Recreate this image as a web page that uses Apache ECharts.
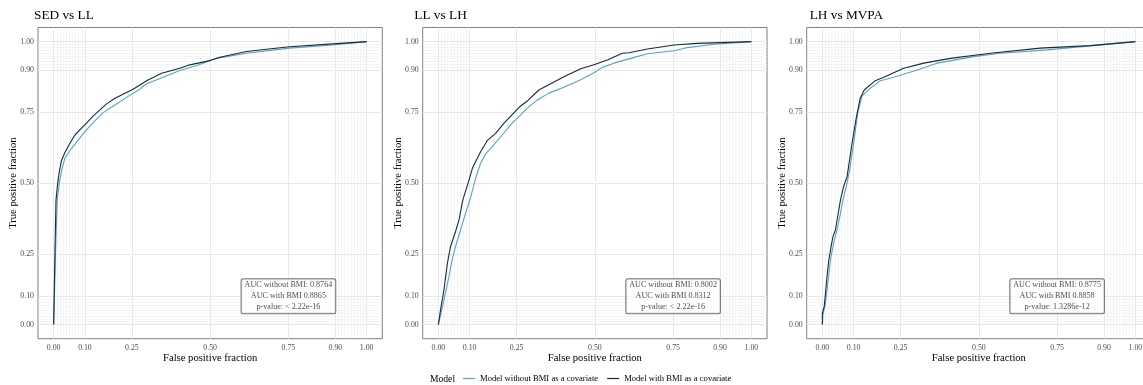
<!DOCTYPE html>
<html>
<head>
<meta charset="utf-8">
<script src="https://cdn.jsdelivr.net/npm/echarts@6/dist/echarts.min.js"></script>
<style>
html,body{margin:0;padding:0;background:#fff;}
#chart{width:1143px;height:385px;}
</style>
</head>
<body>
<div id="chart"></div>
<script>
// ---------- data ----------
const panelTitles = ['SED vs LL', 'LL vs LH', 'LH vs MVPA'];
const seriesNames = ['Model without BMI as a covariate', 'Model with BMI as a covariate'];
const tickValues = [0, 0.1, 0.25, 0.5, 0.75, 0.9, 1];
const minorValues = [0.01,0.02,0.03,0.04,0.05,0.06,0.07,0.08,0.09,0.91,0.92,0.93,0.94,0.95,0.96,0.97,0.98,0.99];
const annotations = [
  ['AUC without BMI: 0.8764', 'AUC with BMI 0.8865', 'p-value: < 2.22e-16'],
  ['AUC without BMI: 0.8002', 'AUC with BMI 0.8312', 'p-value: < 2.22e-16'],
  ['AUC without BMI: 0.8775', 'AUC with BMI 0.8858', 'p-value: 1.3286e-12']
];
const annotationPos = [0.75, 0.1];

// SED vs LL
const sedLL_without = [[0,0],[0.001,0.05],[0.003,0.12],[0.006,0.25],[0.009,0.36],[0.0115,0.44],[0.018,0.50],[0.026,0.548],[0.036,0.588],[0.057,0.623],[0.079,0.653],[0.100,0.682],[0.126,0.714],[0.158,0.749],[0.196,0.776],[0.233,0.803],[0.275,0.832],[0.297,0.851],[0.350,0.874],[0.403,0.898],[0.456,0.915],[0.520,0.941],[0.616,0.959],[0.754,0.977],[0.892,0.988],[1,1]];
const sedLL_with = [[0,0],[0.001,0.06],[0.002,0.12],[0.004,0.25],[0.006,0.36],[0.0075,0.44],[0.012,0.49],[0.018,0.54],[0.025,0.58],[0.036,0.608],[0.052,0.641],[0.068,0.670],[0.089,0.694],[0.105,0.712],[0.126,0.737],[0.148,0.759],[0.169,0.780],[0.196,0.800],[0.228,0.818],[0.254,0.832],[0.297,0.862],[0.345,0.888],[0.403,0.906],[0.435,0.918],[0.499,0.933],[0.531,0.945],[0.616,0.965],[0.680,0.973],[0.754,0.982],[0.892,0.992],[1,1]];
// LL vs LH
const llLH_without = [[0,0],[0.007,0.034],[0.018,0.087],[0.034,0.170],[0.045,0.235],[0.055,0.276],[0.071,0.335],[0.087,0.394],[0.101,0.441],[0.119,0.517],[0.135,0.570],[0.151,0.603],[0.172,0.629],[0.204,0.670],[0.236,0.712],[0.263,0.741],[0.284,0.765],[0.316,0.794],[0.353,0.818],[0.401,0.839],[0.455,0.865],[0.497,0.890],[0.524,0.909],[0.561,0.924],[0.609,0.939],[0.668,0.957],[0.753,0.968],[0.796,0.979],[0.881,0.991],[1,1]];
const llLH_with = [[0,0],[0.007,0.052],[0.018,0.123],[0.029,0.217],[0.039,0.276],[0.055,0.329],[0.066,0.370],[0.078,0.44],[0.095,0.50],[0.109,0.553],[0.135,0.611],[0.156,0.650],[0.183,0.676],[0.210,0.712],[0.258,0.768],[0.284,0.790],[0.321,0.829],[0.359,0.851],[0.401,0.876],[0.455,0.904],[0.497,0.918],[0.540,0.935],[0.588,0.959],[0.609,0.961],[0.668,0.974],[0.753,0.988],[0.827,0.994],[1,1]];
// LH vs MVPA
const lhMVPA_without = [[0,0],[0.002,0.034],[0.010,0.076],[0.020,0.170],[0.026,0.229],[0.036,0.288],[0.047,0.335],[0.058,0.394],[0.066,0.441],[0.079,0.50],[0.089,0.558],[0.100,0.641],[0.113,0.747],[0.127,0.808],[0.153,0.835],[0.185,0.862],[0.228,0.874],[0.303,0.900],[0.366,0.924],[0.483,0.947],[0.569,0.959],[0.718,0.971],[0.856,0.985],[1,1]];
const lhMVPA_with = [[0,0],[0,0.04],[0.006,0.064],[0.015,0.17],[0.020,0.223],[0.028,0.276],[0.034,0.311],[0.042,0.335],[0.049,0.382],[0.058,0.441],[0.068,0.488],[0.079,0.523],[0.095,0.641],[0.109,0.735],[0.121,0.800],[0.134,0.829],[0.169,0.862],[0.196,0.874],[0.228,0.890],[0.260,0.906],[0.324,0.924],[0.409,0.941],[0.537,0.959],[0.696,0.977],[0.856,0.986],[1,1]];

const panelData = [[sedLL_without, sedLL_with],[llLH_without, llLH_with],[lhMVPA_without, lhMVPA_with]];
const colors = ['#56a3c4', '#1b2a35'];

// ---------- layout ----------
const FONT = 'Liberation Serif';
const gridLefts = [38, 422.7, 806.7];
const titleLefts = [34, 414.3, 809.7];
const gridW = 344.3, gridTop = 27.5, gridH = 311.2;

const grids = [], xAxes = [], yAxes = [], series = [], titles = [];
for (let p = 0; p < 3; p++) {
  grids.push({left: gridLefts[p], top: gridTop, width: gridW, height: gridH, show: true,
    borderColor: '#7f7f7f', borderWidth: 1, backgroundColor: '#fff', containLabel: false, outerBoundsMode: 'none'});
  titles.push({text: panelTitles[p], left: titleLefts[p], top: 9, padding: 0,
    textStyle: {fontFamily: FONT, fontSize: 13.3, fontWeight: 'normal', color: '#000'}});
  const axisCommon = {
    type: 'value', min: -0.05, max: 1.05, gridIndex: p,
    axisLine: {show: false}, splitLine: {show: false},
    axisTick: {show: true, length: 3, customValues: tickValues, lineStyle: {color: '#333', width: 1}},
    axisLabel: {customValues: tickValues, formatter: v => v.toFixed(2), fontFamily: FONT, fontSize: 7.8, color: '#4d4d4d'},
    nameLocation: 'middle', nameMoveOverlap: false,
    nameTextStyle: {fontFamily: FONT, fontSize: 10.6, color: '#000'}
  };
  xAxes.push(Object.assign({}, axisCommon, {position: 'bottom', name: 'False positive fraction', nameGap: 14,
    axisLabel: Object.assign({}, axisCommon.axisLabel, {margin: 5})}));
  yAxes.push(Object.assign({}, axisCommon, {position: 'left', name: 'True positive fraction', nameGap: 19,
    axisLabel: Object.assign({}, axisCommon.axisLabel, {margin: 4})}));

  // grid lines
  const ml = [];
  minorValues.forEach(v => { ml.push({xAxis: v, lineStyle: {color: '#efefef', width: 0.6, type: 'solid'}}); ml.push({yAxis: v, lineStyle: {color: '#efefef', width: 0.6, type: 'solid'}}); });
  tickValues.forEach(v => { ml.push({xAxis: v, lineStyle: {color: '#e8e8e8', width: 1, type: 'solid'}}); ml.push({yAxis: v, lineStyle: {color: '#e8e8e8', width: 1, type: 'solid'}}); });
  series.push({type: 'line', xAxisIndex: p, yAxisIndex: p, data: [], z: 1, silent: true,
    markLine: {z: 1, silent: true, symbol: 'none', label: {show: false}, animation: false,
      lineStyle: {type: 'solid'}, emphasis: {disabled: true}, data: ml}});
  // diagonal reference
  series.push({type: 'line', xAxisIndex: p, yAxisIndex: p, data: [[0,0],[1,1]], z: 2, silent: true,
    symbol: 'none', lineStyle: {color: '#ffffff', width: 1}, animation: false});
  // curves
  for (let s = 0; s < 2; s++) {
    series.push({type: 'line', name: seriesNames[s], xAxisIndex: p, yAxisIndex: p, data: panelData[p][s],
      symbol: 'none', z: 3 + s, lineStyle: {color: colors[s], width: 1.1, type: 'solid'}, itemStyle: {color: colors[s]}, animation: false});
  }
  // annotation box
  series.push({type: 'scatter', xAxisIndex: p, yAxisIndex: p, data: [annotationPos], symbolSize: 0, z: 10, silent: true,
    label: {show: true, position: 'inside', formatter: annotations[p].join('\n'), fontFamily: FONT, fontSize: 8.1,
      lineHeight: 11, color: '#1a1a1a', backgroundColor: '#fff', borderColor: '#555', borderWidth: 1, borderRadius: 1.5,
      padding: [1, 3, 0, 3], align: 'center'}, animation: false});
}

titles.push({text: 'Model', left: 430, top: 374, padding: 0, textStyle: {fontFamily: FONT, fontSize: 9.6, fontWeight: 'normal', color: '#000'}});

const option = {
  animation: false,
  title: titles,
  grid: grids,
  xAxis: xAxes,
  yAxis: yAxes,
  legend: {data: seriesNames, left: 463, top: 374, padding: 0, itemWidth: 12, itemHeight: 1.2, itemGap: 9, icon: 'rect',
    textStyle: {fontFamily: FONT, fontSize: 8.6, color: '#000'}},
  series: series
};
const chart = echarts.init(document.getElementById('chart'));
chart.setOption(option);
</script>
</body>
</html>
